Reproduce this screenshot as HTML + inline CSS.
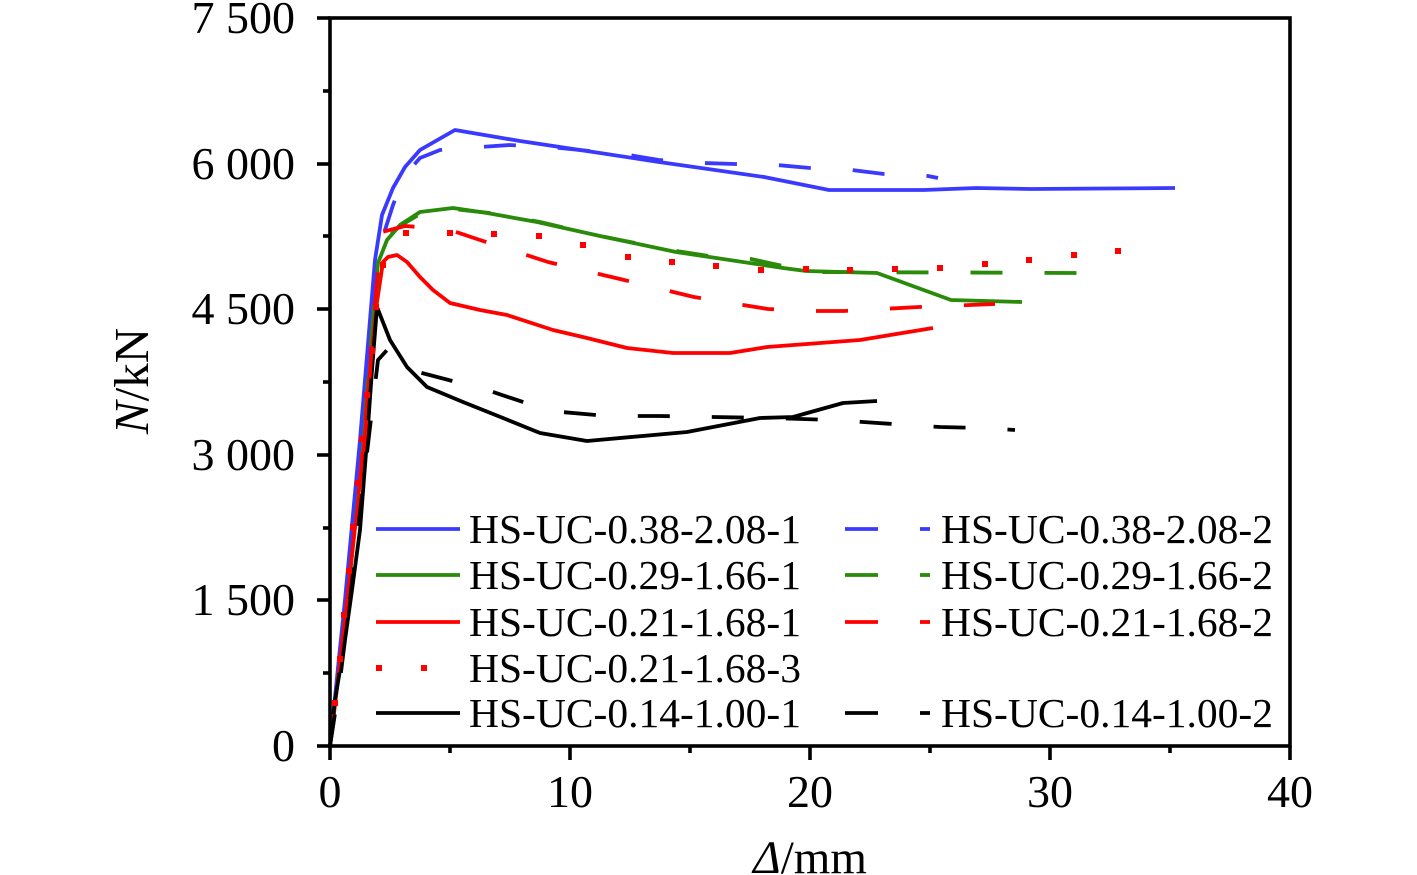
<!DOCTYPE html>
<html><head><meta charset="utf-8"><style>
html,body{margin:0;padding:0;background:#fff;}
svg{display:block;}
text{font-family:"Liberation Serif","Times New Roman",serif;fill:#000;}
</style></head><body>
<svg width="1417" height="875" viewBox="0 0 1417 875" xmlns="http://www.w3.org/2000/svg">
<rect width="1417" height="875" fill="#fff"/>
<g fill="none" stroke-width="3.8" stroke-linejoin="round" stroke-linecap="butt">
<!-- blue solid -->
<polyline stroke="#3a3aff" points="330,746 345,600 360,440 370,320 375,260 382,215 393,188 405,167 420,150 455,130 520,141 600,153 659,162 764,177 829,190 924,190 976,188 1031,189 1175,188"/>
<!-- green solid -->
<polyline stroke="#2a8a0a" points="330,746 345,620 360,480 372,330 378,263 387,240 400,225 420,212 453,208 487,213 537,222 600,236 676,252 783,268 806,271 877,273 951,300 1022,302"/>
<!-- red solid -->
<polyline stroke="#ff0000" points="330,746 345,620 360,480 370,370 377,302 383,262 388,257 397,255 407,262 420,277 433,290 450,303 480,310 507,315 553,330 587,338 627,348 673,353 730,353 767,347 860,340 933,328"/>
<!-- black solid -->
<polyline stroke="#000" points="330,746 335,700 345,640 352,590 360,530 367,440 372,370 377,307 390,340 407,367 427,387 463,402 503,418 540,433 587,441 687,432 760,418 793,417 843,403 877,401"/>
<!-- blue dashed -->
<polyline stroke="#3a3aff" stroke-dasharray="32 42" points="330,746 336,690 343,620 352,540 358,480 363,420 368,370 373,310 377,270 385,230 393,205 405,175 420,158 440,150 480,147 510,145 560,148 629,155 659,160 703,163 735,164 777,165 810,168 852,170 884,174 928,176 938,178"/>
<!-- green dashed -->
<polyline stroke="#2a8a0a" stroke-dasharray="32 42" points="330,746 340,680 348,600 356,520 362,460 368,390 374,320 379,265 385,240 400,226 420,214 453,209 490,213 540,222 600,236 676,251 709,256 751,259 783,266 810,272 1085,273"/>
<!-- red dashed -->
<polyline stroke="#ff0000" stroke-dasharray="32 42" points="330,746 338,680 346,610 354,540 362,470 368,400 373,330 378,270 382,232 405,226 447,229 477,239 548,262 620,279 694,297 768,309 812,311 844,311 919,307 995,304"/>
<!-- black dashed -->
<polyline stroke="#000" stroke-dasharray="32 42" points="330,746 340,680 350,600 358,530 365,470 372,410 378,360 387,350 418,372 460,383 490,391 532,405 562,412 607,416 660,416 713,417 770,418 833,420 863,422 908,425 940,427 983,428 1015,430"/>
</g>
<!-- red dotted: individual dots -->
<g fill="#ff0000">
<rect x="332" y="700" width="6" height="6"/>
<rect x="337" y="656" width="6" height="6"/>
<rect x="341" y="612" width="6" height="6"/>
<rect x="346" y="568" width="6" height="6"/>
<rect x="350" y="524" width="6" height="6"/>
<rect x="355" y="480" width="6" height="6"/>
<rect x="359" y="436" width="6" height="6"/>
<rect x="364" y="392" width="6" height="6"/>
<rect x="369" y="348" width="6" height="6"/>
<rect x="373" y="304" width="6" height="6"/>
<rect x="380" y="262" width="6" height="6"/>
<rect x="403" y="230" width="6" height="6"/>
<rect x="447" y="230" width="6" height="6"/>
<rect x="491" y="231" width="6" height="6"/>
<rect x="536" y="233" width="6" height="6"/>
<rect x="580" y="242" width="6" height="6"/>
<rect x="625" y="254" width="6" height="6"/>
<rect x="669" y="259" width="6" height="6"/>
<rect x="713" y="263" width="6" height="6"/>
<rect x="758" y="267" width="6" height="6"/>
<rect x="803" y="266" width="6" height="6"/>
<rect x="847" y="267" width="6" height="6"/>
<rect x="892" y="266" width="6" height="6"/>
<rect x="937" y="265" width="6" height="6"/>
<rect x="982" y="261" width="6" height="6"/>
<rect x="1026" y="257" width="6" height="6"/>
<rect x="1071" y="252" width="6" height="6"/>
<rect x="1115" y="248" width="6" height="6"/>
</g>
<!-- axes box -->
<g stroke="#000" stroke-width="3.6" fill="none">
<rect x="330" y="18" width="960" height="728"/>
<line x1="317" y1="18" x2="330" y2="18"/>
<line x1="317" y1="164" x2="330" y2="164"/>
<line x1="317" y1="309" x2="330" y2="309"/>
<line x1="317" y1="455" x2="330" y2="455"/>
<line x1="317" y1="600" x2="330" y2="600"/>
<line x1="317" y1="746" x2="330" y2="746"/>
<line x1="323" y1="91" x2="330" y2="91"/>
<line x1="323" y1="236" x2="330" y2="236"/>
<line x1="323" y1="382" x2="330" y2="382"/>
<line x1="323" y1="528" x2="330" y2="528"/>
<line x1="323" y1="673" x2="330" y2="673"/>
<line x1="330" y1="746" x2="330" y2="760"/>
<line x1="570" y1="746" x2="570" y2="760"/>
<line x1="810" y1="746" x2="810" y2="760"/>
<line x1="1050" y1="746" x2="1050" y2="760"/>
<line x1="1290" y1="746" x2="1290" y2="760"/>
<line x1="450" y1="746" x2="450" y2="753"/>
<line x1="690" y1="746" x2="690" y2="753"/>
<line x1="930" y1="746" x2="930" y2="753"/>
<line x1="1170" y1="746" x2="1170" y2="753"/>
</g>
<!-- y tick labels -->
<g font-size="46" text-anchor="end">
<text x="295" y="33">7 500</text>
<text x="295" y="179">6 000</text>
<text x="295" y="324">4 500</text>
<text x="295" y="470">3 000</text>
<text x="295" y="615">1 500</text>
<text x="295" y="761">0</text>
</g>
<!-- x tick labels -->
<g font-size="46" text-anchor="middle">
<text x="330" y="807">0</text>
<text x="570" y="807">10</text>
<text x="810" y="807">20</text>
<text x="1050" y="807">30</text>
<text x="1290" y="807">40</text>
</g>
<!-- axis titles -->
<text x="810" y="873" font-size="47" text-anchor="middle"><tspan font-style="italic">Δ</tspan>/mm</text>
<text transform="translate(148,381) rotate(-90)" font-size="49" text-anchor="middle"><tspan font-style="italic">N</tspan>/kN</text>
<!-- legend -->
<g stroke-width="3.8" fill="none">
<line x1="376" y1="529" x2="460" y2="529" stroke="#3a3aff"/>
<line x1="376" y1="575" x2="460" y2="575" stroke="#2a8a0a"/>
<line x1="376" y1="622" x2="460" y2="622" stroke="#ff0000"/>
<line x1="376" y1="713" x2="460" y2="713" stroke="#000"/>
<line x1="845" y1="529" x2="878" y2="529" stroke="#3a3aff"/>
<line x1="920" y1="529" x2="930" y2="529" stroke="#3a3aff"/>
<line x1="845" y1="575" x2="878" y2="575" stroke="#2a8a0a"/>
<line x1="920" y1="575" x2="930" y2="575" stroke="#2a8a0a"/>
<line x1="845" y1="622" x2="878" y2="622" stroke="#ff0000"/>
<line x1="920" y1="622" x2="930" y2="622" stroke="#ff0000"/>
<line x1="845" y1="713" x2="878" y2="713" stroke="#000"/>
<line x1="920" y1="713" x2="930" y2="713" stroke="#000"/>
</g>
<rect x="376" y="665" width="6" height="6" fill="#ff0000"/>
<rect x="421" y="665" width="6" height="6" fill="#ff0000"/>
<g font-size="41.5">
<text x="469" y="543">HS-UC-0.38-2.08-1</text>
<text x="469" y="589">HS-UC-0.29-1.66-1</text>
<text x="469" y="636">HS-UC-0.21-1.68-1</text>
<text x="469" y="682">HS-UC-0.21-1.68-3</text>
<text x="469" y="727">HS-UC-0.14-1.00-1</text>
<text x="941" y="543">HS-UC-0.38-2.08-2</text>
<text x="941" y="589">HS-UC-0.29-1.66-2</text>
<text x="941" y="636">HS-UC-0.21-1.68-2</text>
<text x="941" y="727">HS-UC-0.14-1.00-2</text>
</g>
</svg>
</body></html>
